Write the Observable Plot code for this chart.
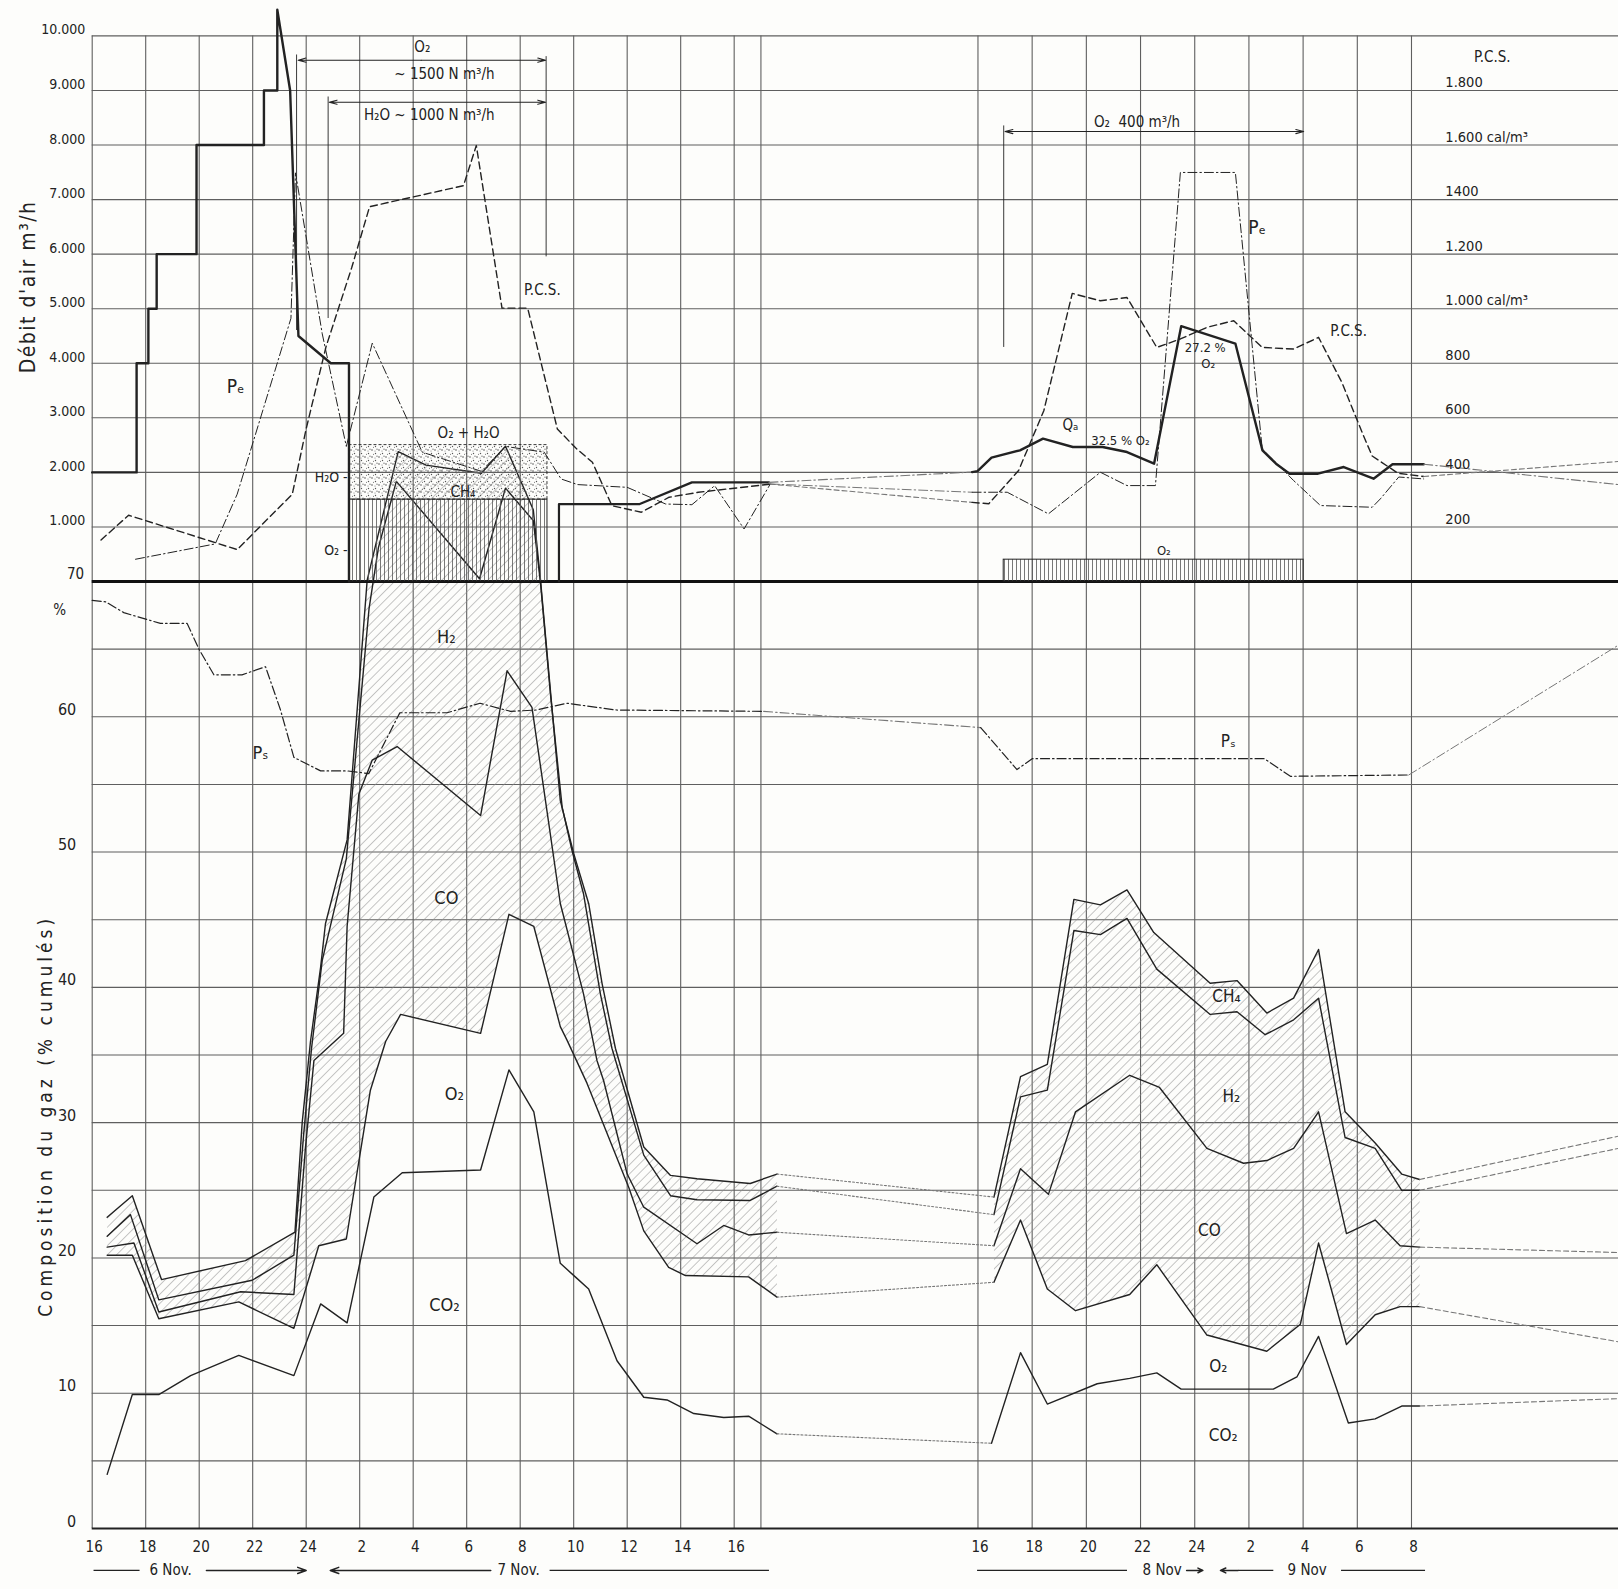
<!DOCTYPE html>
<html><head><meta charset="utf-8">
<script src="https://cdn.jsdelivr.net/npm/d3@7"></script>
<script src="https://cdn.jsdelivr.net/npm/@observablehq/plot@0.6"></script>
<style>
body{margin:0;background:#fdfdfb;}
#wrap{position:relative;width:1618px;height:1589px;overflow:hidden;background:#fdfdfb;}
#wrap svg.layer{position:absolute;left:0;top:0;}
</style></head><body>
<svg width="0" height="0" style="position:absolute">
<defs>
<pattern id="diag" patternUnits="userSpaceOnUse" width="6.5" height="6.5" patternTransform="rotate(45)"><line x1="0" y1="0" x2="0" y2="6.5" stroke="#8c8c8c" stroke-width="1"/></pattern>
<pattern id="vert" patternUnits="userSpaceOnUse" width="4" height="10"><line x1="0.5" y1="0" x2="0.5" y2="10" stroke="#555" stroke-width="0.8"/></pattern>
<pattern id="dots" patternUnits="userSpaceOnUse" width="7" height="7"><circle cx="1" cy="2" r="0.8" fill="#555"/><circle cx="4.5" cy="5.5" r="0.7" fill="#555"/><circle cx="6" cy="1.2" r="0.6" fill="#555"/><circle cx="2.5" cy="6.2" r="0.5" fill="#555"/><circle cx="4" cy="3" r="0.5" fill="#666"/></pattern>
</defs></svg>
<div id="wrap"></div>
<script>
// ---------- axes / ticks ----------
const flowTicks = [1000,2000,3000,4000,5000,6000,7000,8000,9000,10000];
const flowTickLabels = ["1.000","2.000","3.000","4.000","5.000","6.000","7.000","8.000","9.000","10.000"];
const pctGrid = [5,10,15,20,25,30,35,40,45,50,55,60,65];
const pctTicks = [0,10,20,30,40,50,60];
const pctTickLabels = ["0","10","20","30","40","50","60"];
const pcsTicks = [200,400,600,800,1000,1200,1400,1600,1800];
const pcsTickLabels = ["200","400","600","800","1.000 cal/m³","1.200","1400","1.600 cal/m³","1.800"];
// hours counted from 6 Nov 16 h (the time axis is broken between 7 Nov 17 h and 8 Nov 16 h)
const hourTicks = [0,2,4,6,8,10,12,14,16,18,20,22,24,48,50,52,54,56,58,60,62,64];
const hourLabels = ["16","18","20","22","24","2","4","6","8","10","12","14","16","16","18","20","22","24","2","4","6","8"];
const gridHours = [0,2,4,6,8,10,12,14,16,18,20,22,24,25,48,50,52,54,56,58,60,62,64];

// ---------- top panel : flows (m3/h) ----------
const airA = [[0,2000],[1.66,2000],[1.66,4000],[2.1,4000],[2.1,5000],[2.41,5000],[2.41,6000],[3.9,6000],[3.9,8000],[6.42,8000],[6.42,9000],[6.92,9000],[6.92,10480],[7.4,9000],[7.71,4500],[8.92,4000],[9.6,4000],[9.6,0]];
const airB = [[17.45,0],[17.45,1420],[20.47,1420],[22.42,1817],[25.3,1817]];
const qa = [[47.35,2005],[47.95,2024],[48.5,2270],[49.55,2404],[50.4,2618],[51.5,2465],[52.6,2465],[53.5,2373],[54.5,2159],[55.5,4679],[57.5,4361],[58.5,2404],[59.0,2159],[59.5,1976],[60.55,1976],[61.5,2098],[62.6,1884],[63.3,2150],[64.45,2150]];
const qaEdge = 1776;
const peA = [[1.62,408],[4.6,689],[5.42,1600],[7.43,4824],[7.6,7490],[8.6,4540],[9.5,2476],[10.47,4368],[12.34,2370],[14.55,2020],[15.45,2476],[16.9,2370],[17.53,1879],[18.15,1776],[20.0,1726],[21.44,1420],[22.42,1408],[23.27,1756],[24.37,963],[25.35,1787]];
const peB = [[47.35,1636],[49.08,1636],[50.6,1240],[52.52,2002],[53.5,1758],[54.55,1758],[55.47,7497],[57.5,7497],[58.49,2430],[59.65,1850],[60.64,1392],[62.55,1361],[62.85,1514],[63.53,1915],[64.45,1880]];
// P.C.S. (cal/m3, right axis)
const pcsA = [[0.33,152],[1.36,243],[5.42,117],[7.48,320],[8.0,560],[8.74,860],[9.7,1150],[10.37,1374],[13.88,1451],[14.36,1598],[15.32,1002],[16.28,1002],[17.39,559],[18.07,490],[18.7,437],[19.43,278],[20.53,254],[21.57,309],[22.66,327],[25.35,357]];
const pcsB = [[47.35,290],[48.4,285],[49.5,407],[50.43,626],[51.48,1056],[52.52,1029],[53.5,1041],[54.6,858],[55.47,889],[56.46,932],[57.44,956],[58.49,858],[59.65,852],[60.57,895],[61.43,730],[62.2,541],[62.55,460],[63.5,397],[64.45,385]];
const pcsEdge = 440;

// ---------- bottom panel : gas composition (% cumulated) ----------
const co2A = [[0.56,4.0],[1.5,9.9],[2.49,9.9],[3.68,11.3],[5.48,12.8],[7.54,11.3],[8.54,16.6],[9.53,15.2],[10.53,24.5],[11.59,26.3],[14.52,26.5],[15.58,33.9],[16.51,30.8],[17.5,19.6],[18.06,18.6],[18.56,17.7],[19.62,12.4],[20.62,9.7],[21.49,9.5],[22.49,8.5],[23.61,8.2],[24.54,8.3],[25.6,7.0]];
const o2A = [[0.56,20.2],[1.5,20.2],[2.49,15.5],[5.48,16.75],[7.54,14.8],[8.47,20.9],[9.5,21.4],[10.4,32.4],[10.97,36.0],[11.53,38.0],[14.52,36.6],[15.58,45.4],[16.51,44.5],[17.5,37.1],[17.75,36.1],[18.5,32.9],[20.06,25.2],[20.62,22.0],[21.55,19.3],[22.18,18.7],[24.54,18.6],[25.6,17.1]];
const coA = [[0.56,20.8],[1.56,21.1],[2.49,16.0],[5.55,17.5],[7.54,17.3],[7.97,28.1],[8.29,34.6],[9.4,36.6],[9.53,44.5],[9.97,54.3],[10.47,56.8],[11.4,57.8],[14.52,52.7],[15.51,63.4],[16.44,60.7],[17.07,52.1],[17.5,46.2],[18.37,39.5],[18.87,34.6],[19.12,33.1],[20.0,26.2],[20.62,23.75],[22.61,21.05],[23.61,22.4],[24.54,21.7],[25.6,21.9]];
const h2A = [[0.56,21.6],[1.43,23.2],[2.49,16.9],[5.98,18.35],[7.54,20.2],[7.9,29.0],[8.2,35.5],[8.6,42.0],[9.5,49.5],[10.35,68.0],[10.7,72.5],[11.37,77.4],[14.48,70.2],[15.45,76.9],[16.49,74.5],[16.76,69.9],[17.13,61.7],[17.57,53.3],[17.94,50.1],[18.37,46.9],[19.0,39.5],[19.43,35.5],[20.62,27.6],[21.62,24.6],[22.61,24.3],[24.6,24.25],[25.6,25.3]];
const ch4A = [[0.56,23.0],[1.5,24.6],[2.59,18.4],[5.73,19.8],[7.58,21.9],[7.85,30.0],[8.16,36.0],[8.54,41.5],[8.72,44.7],[9.53,50.9],[10.28,70.1],[11.44,79.6],[12.48,78.6],[14.55,78.0],[15.45,80.0],[16.49,75.3],[16.76,70.1],[17.5,53.8],[18.0,49.9],[18.56,46.2],[19.06,40.3],[19.56,35.5],[20.62,28.2],[21.62,26.1],[22.61,25.85],[24.6,25.5],[25.6,26.2]];
const co2B = [[48.5,6.3],[49.57,13.0],[50.56,9.2],[52.4,10.7],[53.6,11.1],[54.6,11.5],[55.5,10.3],[58.9,10.3],[59.77,11.2],[60.57,14.2],[61.67,7.8],[62.66,8.1],[63.64,9.05],[64.3,9.05]];
const o2B = [[48.59,18.2],[49.57,22.8],[50.56,17.7],[51.6,16.1],[53.6,17.3],[54.6,19.5],[56.45,14.3],[58.66,13.1],[59.9,15.1],[60.57,21.1],[61.6,13.6],[62.66,15.8],[63.58,16.4],[64.3,16.4]];
const coB = [[48.59,20.9],[49.57,26.6],[50.6,24.7],[51.6,30.8],[53.6,33.5],[54.7,32.6],[56.45,28.1],[57.8,27.0],[58.66,27.2],[59.65,28.1],[60.57,30.8],[61.6,21.8],[62.66,22.8],[63.58,20.9],[64.3,20.8]];
const h2B = [[48.59,23.2],[49.57,31.9],[50.56,32.4],[51.54,44.2],[52.52,43.9],[53.5,45.1],[54.6,41.35],[56.57,38.0],[57.56,38.2],[58.6,36.5],[59.65,37.6],[60.57,39.2],[61.55,28.9],[62.66,28.1],[63.64,25.0],[64.3,25.0]];
const ch4B = [[48.59,24.5],[49.57,33.4],[50.56,34.3],[51.54,46.5],[52.52,46.1],[53.5,47.2],[54.49,44.05],[56.57,40.3],[57.56,40.5],[58.66,38.1],[59.65,39.2],[60.57,42.8],[61.55,30.8],[62.66,28.5],[63.64,26.2],[64.3,25.8]];
const gasEdge = {co2: 9.6, o2: 13.8, co: 20.4, h2: 28.1, ch4: 29.0};
const psA = [[0,68.6],[0.5,68.5],[1.18,67.7],[2.55,66.9],[3.55,66.9],[3.99,65.0],[4.55,63.1],[5.6,63.1],[6.48,63.7],[7.04,60.5],[7.54,57.0],[8.54,56.0],[9.53,56.0],[10.34,55.8],[11.5,60.3],[13.27,60.3],[14.5,61.0],[15.64,60.4],[16.6,60.5],[17.75,61.0],[19.6,60.5],[25.1,60.4]];
const psB = [[48.1,59.2],[49.44,56.1],[50.0,56.9],[58.57,56.9],[59.53,55.6],[63.9,55.7]];
const psEdge = 65.3;

// ---------- helpers ----------
const T_END = 71.64;
// broken time axis: hours -> axis units (compressed gap between 7 Nov 17h and 8 Nov 16h)
const breakAxis = d3.scaleLinear().domain([0, 25.6, 48, T_END]).range([0, 25.6, 33.114, 57.06]);
const X = {type: "linear", transform: t => breakAxis(t), domain: [0, 57.06], range: [91.7, 1618], axis: null};
const INK = "#222", GRID = "#5f5f5f", LIGHT = "#777";
const FONT = "'DejaVu Sans Condensed','Liberation Sans Narrow','DejaVu Sans',sans-serif";
const xy = {x: d => d[0], y: d => d[1]};
const last = a => a[a.length - 1];
const bridge = (a, b) => [last(a), b[0]];
const toEdge = (a, v) => [last(a), [T_END, v]];
const polygon = (lo, hi) => lo.concat(hi.slice().reverse());
const style = {background: "transparent", fontFamily: FONT, color: INK, overflow: "visible"};
const DASHDOT = "9,3,1.5,3";
const Y0 = -3.1; // date row

// ---------- bottom chart (gas composition) ----------
const gasLinesA = [co2A, o2A, coA, h2A, ch4A];
const gasLinesB = [co2B, o2B, coB, h2B, ch4B];
const gasEdgeVals = [gasEdge.co2, gasEdge.o2, gasEdge.co, gasEdge.h2, gasEdge.ch4];
const gasMarks = [
  Plot.ruleY(pctGrid, {x1: 0, x2: T_END, stroke: GRID, strokeWidth: 1.1}),
  Plot.ruleX(gridHours, {y1: 0, y2: 70, stroke: GRID, strokeWidth: 1.1}),
  Plot.ruleY([0], {x1: 0, x2: T_END, stroke: INK, strokeWidth: 2}),
  Plot.line(polygon(o2A, ch4A), {...xy, fill: "url(#diag)", stroke: null}),
  Plot.line(polygon(o2B, ch4B), {...xy, fill: "url(#diag)", stroke: null}),
];
gasLinesA.forEach((a, i) => {
  const b = gasLinesB[i];
  gasMarks.push(Plot.line(a, {...xy, stroke: INK, strokeWidth: 1.4}));
  gasMarks.push(Plot.line(b, {...xy, stroke: INK, strokeWidth: 1.4}));
  gasMarks.push(Plot.line(bridge(a, b), {...xy, stroke: LIGHT, strokeWidth: 1.1, strokeDasharray: "2,2"}));
  gasMarks.push(Plot.line(toEdge(b, gasEdgeVals[i]), {...xy, stroke: LIGHT, strokeWidth: 1.1, strokeDasharray: "5,3"}));
});
gasMarks.push(
  Plot.line(psA, {...xy, stroke: INK, strokeWidth: 1.2, strokeDasharray: DASHDOT}),
  Plot.line(bridge(psA, psB), {...xy, stroke: LIGHT, strokeWidth: 1.1, strokeDasharray: DASHDOT}),
  Plot.line(psB, {...xy, stroke: INK, strokeWidth: 1.2, strokeDasharray: DASHDOT}),
  Plot.line(toEdge(psB, psEdge), {...xy, stroke: LIGHT, strokeWidth: 1, strokeDasharray: DASHDOT}),
  // left % labels
  Plot.text(pctTicks, {x: 0, y: d => d, text: (d, i) => pctTickLabels[i], textAnchor: "end", dx: -16, dy: -7, fontSize: 16}),
  Plot.text(["70"], {x: 0, y: 70, textAnchor: "end", dx: -8, dy: -7, fontSize: 15}),
  Plot.text(["%"], {x: 0, y: 67.9, textAnchor: "end", dx: -26, fontSize: 15}),
  Plot.text(["Composition du gaz (% cumulés)"], {x: 0, y: 30.5, dx: -46, rotate: -90, fontSize: 19}),
  // hour labels
  Plot.text(hourTicks, {x: d => d, y: 0, text: (d, i) => hourLabels[i], dy: 19, dx: 2, fontSize: 15}),
  // date row
  Plot.link([0], {x1: 0.05, x2: 1.77, y1: Y0, y2: Y0, stroke: INK, strokeWidth: 1.3}),
  Plot.text(["6 Nov."], {x: 2.93, y: Y0, fontSize: 15}),
  Plot.arrow([0], {x1: 4.27, x2: 8.0, y1: Y0, y2: Y0, stroke: INK, strokeWidth: 1.5, headLength: 9, headAngle: 40}),
  Plot.arrow([0], {x1: 14.9, x2: 8.9, y1: Y0, y2: Y0, stroke: INK, strokeWidth: 1.5, headLength: 9, headAngle: 40}),
  Plot.text(["7 Nov."], {x: 15.94, y: Y0, fontSize: 15}),
  Plot.link([0], {x1: 17.1, x2: 25.3, y1: Y0, y2: Y0, stroke: INK, strokeWidth: 1.3}),
  Plot.link([0], {x1: 47.9, x2: 53.5, y1: Y0, y2: Y0, stroke: INK, strokeWidth: 1.3}),
  Plot.text(["8 Nov"], {x: 54.8, y: Y0, fontSize: 15}),
  Plot.arrow([0], {x1: 55.7, x2: 56.3, y1: Y0, y2: Y0, stroke: INK, strokeWidth: 1.5, headLength: 8, headAngle: 50}),
  Plot.arrow([0], {x1: 57.6, x2: 56.95, y1: Y0, y2: Y0, stroke: INK, strokeWidth: 1.5, headLength: 8, headAngle: 50}),
  Plot.link([0], {x1: 57.6, x2: 58.9, y1: Y0, y2: Y0, stroke: INK, strokeWidth: 1.3}),
  Plot.text(["9 Nov"], {x: 60.15, y: Y0, fontSize: 15}),
  Plot.link([0], {x1: 61.4, x2: 64.5, y1: Y0, y2: Y0, stroke: INK, strokeWidth: 1.3}),
  // curve labels
  Plot.text(["H₂", "CO", "O₂", "CO₂", "Pₛ"], {x: [13.24, 13.24, 13.54, 13.17, 6.29], y: [65.9, 46.6, 32.1, 16.5, 57.3], text: d => d, fontSize: 18}),
  Plot.text(["CH₄", "H₂", "CO", "O₂", "CO₂", "Pₛ"], {x: [57.17, 57.35, 56.54, 56.87, 57.05, 57.24], y: [39.3, 31.9, 22.0, 12.0, 6.9, 58.2], text: d => d, fontSize: 17})
);
const gasChart = Plot.plot({
  width: 1618, height: 1589, style,
  x: X, y: {domain: [0, 70], range: [1528, 581], axis: null},
  marks: gasMarks
});

// ---------- top chart (flows) ----------
const flowChart = Plot.plot({
  width: 1618, height: 1589, style,
  x: X, y: {domain: [0, 10000], range: [581, 35.4], axis: null},
  marks: [
    Plot.ruleY(flowTicks, {x1: 0, x2: T_END, stroke: GRID, strokeWidth: 1.1}),
    Plot.ruleX(gridHours, {y1: 0, y2: 10000, stroke: GRID, strokeWidth: 1.1}),
    Plot.ruleY([0], {x1: 0, x2: T_END, stroke: "#111", strokeWidth: 2.8}),
    // injection boxes
    Plot.rect([0], {x1: 9.6, x2: 17.02, y1: 0, y2: 1500, fill: "url(#vert)", stroke: INK, strokeWidth: 1}),
    Plot.rect([0], {x1: 9.6, x2: 17.02, y1: 1500, y2: 2500, fill: "url(#dots)", stroke: INK, strokeWidth: 0.9, strokeDasharray: "3,2"}),
    Plot.rect([0], {x1: 48.95, x2: 60.02, y1: 0, y2: 400, fill: "url(#vert)", stroke: INK, strokeWidth: 1}),
    // air flow
    Plot.line(airA, {...xy, stroke: INK, strokeWidth: 2.4}),
    Plot.line(airB, {...xy, stroke: INK, strokeWidth: 2.2}),
    Plot.line(bridge(airB, qa), {...xy, stroke: LIGHT, strokeWidth: 1.1, strokeDasharray: DASHDOT}),
    Plot.line(qa, {...xy, stroke: INK, strokeWidth: 2.4}),
    Plot.line(toEdge(qa, qaEdge), {...xy, stroke: LIGHT, strokeWidth: 1.1, strokeDasharray: DASHDOT}),
    // Pe
    Plot.line(peA, {...xy, stroke: INK, strokeWidth: 1, strokeDasharray: DASHDOT}),
    Plot.line(bridge(peA, peB), {...xy, stroke: LIGHT, strokeWidth: 1, strokeDasharray: DASHDOT}),
    Plot.line(peB, {...xy, stroke: INK, strokeWidth: 1, strokeDasharray: DASHDOT}),
    // injection arrows 7 Nov
    Plot.ruleX([7.64], {y1: 4600, y2: 9650, stroke: INK, strokeWidth: 0.9}),
    Plot.ruleX([16.97], {y1: 5950, y2: 9620, stroke: INK, strokeWidth: 0.9}),
    Plot.ruleX([8.82], {y1: 4820, y2: 8880, stroke: INK, strokeWidth: 0.9}),
    Plot.arrow([0], {x1: 12.3, x2: 7.7, y1: 9555, y2: 9555, stroke: INK, strokeWidth: 1.1, headLength: 11, headAngle: 30}),
    Plot.arrow([0], {x1: 12.3, x2: 16.95, y1: 9555, y2: 9555, stroke: INK, strokeWidth: 1.1, headLength: 11, headAngle: 30}),
    Plot.arrow([0], {x1: 12.9, x2: 8.86, y1: 8784, y2: 8784, stroke: INK, strokeWidth: 1.1, headLength: 11, headAngle: 30}),
    Plot.arrow([0], {x1: 12.9, x2: 16.95, y1: 8784, y2: 8784, stroke: INK, strokeWidth: 1.1, headLength: 11, headAngle: 30}),
    // injection arrow 8-9 Nov
    Plot.ruleX([48.95], {y1: 4290, y2: 8350, stroke: INK, strokeWidth: 0.9}),
    Plot.arrow([0], {x1: 54.5, x2: 49.0, y1: 8247, y2: 8247, stroke: INK, strokeWidth: 1.1, headLength: 11, headAngle: 30}),
    Plot.arrow([0], {x1: 54.5, x2: 60.02, y1: 8247, y2: 8247, stroke: INK, strokeWidth: 1.1, headLength: 11, headAngle: 30}),
    // annotations 7 Nov
    Plot.text(["O₂", "~ 1500 N m³/h", "H₂O ~ 1000 N m³/h"], {x: [12.34, 13.17, 12.6], y: [9800, 9290, 8540], text: d => d, fontSize: 15}),
    Plot.text(["P.C.S.", "O₂ + H₂O", "CH₄"], {x: [16.83, 14.07, 13.86], y: [5348, 2720, 1634], text: d => d, fontSize: 15}),
    Plot.text(["Pₑ"], {x: 5.36, y: 3562, fontSize: 19}),
    Plot.text(["H₂O -", "O₂ -"], {x: [9.55, 9.55], y: [1900, 560], text: d => d, textAnchor: "end", fontSize: 14}),
    // annotations 8-9 Nov
    Plot.text(["O₂  400 m³/h", "P.C.S.", "Qₐ"], {x: [53.87, 61.68, 51.41], y: [8412, 4597, 2857], text: d => d, fontSize: 15}),
    Plot.text(["Pₑ"], {x: 58.3, y: 6489, fontSize: 19}),
    Plot.text(["32.5 % O₂", "27.2 %", "O₂", "O₂"], {x: [53.26, 56.39, 56.5, 54.86], y: [2582, 4291, 3987, 560], text: d => d, fontSize: 13}),
    // left flow labels
    Plot.text(flowTicks, {x: 0, y: d => d, text: (d, i) => flowTickLabels[i], textAnchor: "end", dx: -7, dy: -6, fontSize: 14}),
    Plot.text(["Débit d'air m³/h"], {x: 0, y: 5400, dx: -64, rotate: -90, fontSize: 21})
  ]
});

// ---------- P.C.S. chart ----------
const pcsChart = Plot.plot({
  width: 1618, height: 1589, style,
  x: X, y: {domain: [0, 2000], range: [581, 35.4], axis: null},
  marks: [
    Plot.line(pcsA, {...xy, stroke: INK, strokeWidth: 1.4, strokeDasharray: "7,4"}),
    Plot.line(bridge(pcsA, pcsB), {...xy, stroke: LIGHT, strokeWidth: 1.1, strokeDasharray: "5,3"}),
    Plot.line(pcsB, {...xy, stroke: INK, strokeWidth: 1.4, strokeDasharray: "7,4"}),
    Plot.line(toEdge(pcsB, pcsEdge), {...xy, stroke: LIGHT, strokeWidth: 1.1, strokeDasharray: "5,3"}),
    Plot.text(pcsTicks, {x: 65.25, y: d => d, text: (d, i) => pcsTickLabels[i], textAnchor: "start", dy: -8, fontSize: 14.5}),
    Plot.text(["P.C.S."], {x: 66.98, y: 1800, dy: -33, fontSize: 15})
  ]
});

const wrap = document.getElementById("wrap");
for (const c of [gasChart, flowChart, pcsChart]) {
  c.classList.add("layer");
  wrap.appendChild(c);
}
d3.select(gasChart).selectAll("text").filter(function() { return this.textContent.startsWith("Composition"); }).attr("letter-spacing", 4);
d3.select(flowChart).selectAll("text").filter(function() { return this.textContent.startsWith("Débit"); }).attr("letter-spacing", 1.5);
</script></body></html>
